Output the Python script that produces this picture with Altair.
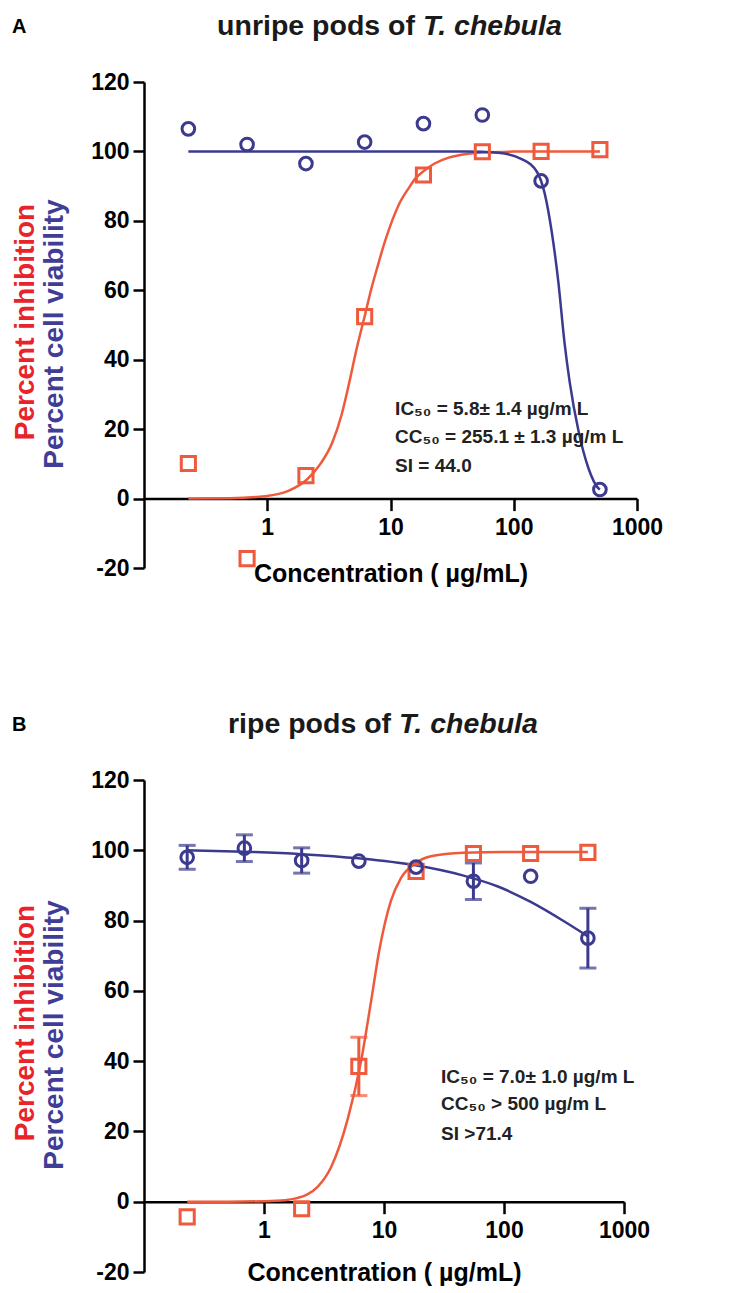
import altair as alt
import pandas as pd

FONT = "Liberation Sans"
ORANGE = "#ee5a3b"
BLUE = "#3b3a8f"
RED_T = "#e8232a"
BLUE_T = "#3f3d96"

# ---------------- data ----------------
conc = [0.229, 0.686, 2.06, 6.17, 18.5, 55.6, 166.7, 500]
x_ticks = [1, 10, 100, 1000]
y_ticks = [-20, 0, 20, 40, 60, 80, 100, 120]

# Panel A (unripe pods)
a_inhibition = [10.1, -17.3, 6.6, 52.4, 93.2, 99.9, 100.0, 100.5]
a_viability = [106.5, 102.0, 96.5, 102.7, 108.0, 110.5, 91.5, 2.6]
a_inhib_fit_x = [0.229, 0.5, 0.96, 1.5, 2.1, 2.7, 3.36, 4.0, 4.6, 5.3, 6.17, 7.0, 7.8, 9.0,
                 10.3, 12.0, 14.1, 16.0, 18.5, 23.0, 29.7, 40.0, 55.6, 100, 200, 500]
a_inhib_fit_y = [0.0, 0.1, 0.7, 2.3, 5.5, 10.0, 16.0, 24.0, 33.0, 43.0, 52.5, 60.5, 66.5, 74.0,
                 80.0, 85.5, 89.5, 92.3, 94.3, 96.6, 98.2, 99.2, 99.7, 99.95, 100.0, 100.0]
a_viab_fit_x = [0.229, 1, 10, 40, 75, 116, 155, 178, 203, 230, 258, 284, 336, 405, 488, 500]
a_viab_fit_y = [100, 100, 100, 99.95, 99.6, 97.8, 94.0, 88.0, 77.0, 62.4, 45.0, 33.7, 19.3, 8.6, 2.9, 2.6]
a_notes = ["IC\u2085\u2080 = 5.8\u00b1 1.4 \u00b5g/m L", "CC\u2085\u2080 = 255.1  \u00b1 1.3 \u00b5g/m L", "SI = 44.0"]
a_note_x = [10.9, 10.9, 10.9]
a_note_y = [25.9, 17.6, 9.5]

# Panel B (ripe pods)
b_inhibition = [-4.3, None, -2.0, 38.5, 94.0, 99.1, 99.1, 99.4]
b_inhibition_err = [0, 0, 0, 8.3, 0, 0, 0, 0]
b_viability = [98.0, 100.6, 97.1, 96.9, 95.2, 91.2, 92.6, 75.0]
b_viability_err = [3.4, 3.8, 3.6, 0, 0, 5.2, 0, 8.5]
b_inhib_fit_x = [0.229, 0.5, 1.0, 1.5, 1.92, 2.3, 2.81, 3.62, 5.0, 6.43, 7.8, 9.1, 11.4, 13.8,
                 17.8, 24.6, 46, 100, 500]
b_inhib_fit_y = [0.0, 0.02, 0.15, 0.45, 1.1, 2.1, 4.3, 9.8, 23.7, 39.9, 57.0, 71.2, 85.5, 92.0,
                 96.0, 98.3, 99.3, 99.5, 99.5]
b_viab_fit_x = [0.229, 0.686, 2.06, 6.17, 17.8, 46, 89, 167, 316, 500]
b_viab_fit_y = [100, 99.6, 98.9, 97.7, 95.8, 92.8, 89.7, 85.3, 79.8, 75.5]
b_notes = ["IC\u2085\u2080 = 7.0\u00b1 1.0  \u00b5g/m L", "CC\u2085\u2080 > 500  \u00b5g/m L", "SI >71.4"]
b_note_x = [29.9, 29.9, 29.9]
b_note_y = [35.6, 27.7, 19.4]

TITLE_SIZE = 28.5


def panel(w, h, inhib, viab, inhib_err, viab_err, ifx, ify, vfx, vfy,
          notes, nx, ny, title_plain, title_italic, letter, title_y, title_split,
          axis_offset, title_pad):
    xs = alt.Scale(type="log", domain=[0.1, 1000])
    ys = alt.Scale(domain=[-20, 120], nice=False, zero=False)
    x_axis = alt.Axis(values=x_ticks, format="d", title="Concentration ( \u00b5g/mL)",
                      offset=axis_offset, grid=False, domainColor="black", domainWidth=2.5,
                      tickColor="black", tickWidth=2.5, tickSize=12, labelPadding=6,
                      labelFont=FONT, labelFontSize=23, labelFontWeight="bold",
                      labelColor="black", labelFlush=False, labelOverlap=False,
                      titleFont=FONT, titleFontSize=25, titleFontWeight="bold",
                      titleColor="black", titlePadding=title_pad)
    y_axis = alt.Axis(values=y_ticks, title=None, grid=False, domainColor="black",
                      domainWidth=2.5, tickColor="black", tickWidth=2.5, tickSize=11,
                      labelPadding=4, labelFont=FONT, labelFontSize=23,
                      labelFontWeight="bold", labelColor="black",
                      labelExpr="'' + datum.value")
    X = alt.X("x:Q", scale=xs, axis=x_axis)
    Y = alt.Y("y:Q", scale=ys, axis=y_axis)

    pts_i = pd.DataFrame({"x": conc, "y": inhib, "e": inhib_err}).dropna()
    pts_v = pd.DataFrame({"x": conc, "y": viab, "e": viab_err})
    err = pd.concat([pts_i.assign(s="i"), pts_v.assign(s="v")])
    err = err[err["e"] > 0].copy()
    err["lo"] = err["y"] - err["e"]
    err["hi"] = err["y"] + err["e"]
    err_i = err[err["s"] == "i"]
    err_v = err[err["s"] == "v"]

    layers = []
    layers.append(alt.Chart(pd.DataFrame({"x": ifx, "y": ify})).mark_line(
        color=ORANGE, strokeWidth=2.5, interpolate="monotone").encode(x=X, y=Y))
    layers.append(alt.Chart(pd.DataFrame({"x": vfx, "y": vfy})).mark_line(
        color=BLUE, strokeWidth=2.5, interpolate="monotone").encode(x=X, y=Y))
    for e_df, col in ((err_i, ORANGE), (err_v, BLUE)):
        if len(e_df):
            layers.append(alt.Chart(e_df).mark_rule(color=col, strokeWidth=3).encode(
                x=X, y=alt.Y("lo:Q", scale=ys, axis=y_axis), y2="hi:Q"))
            for f in ("lo", "hi"):
                layers.append(alt.Chart(e_df).mark_tick(
                    color=col, orient="horizontal", size=17, thickness=3).encode(
                    x=X, y=alt.Y(f + ":Q", scale=ys, axis=y_axis)))
    layers.append(alt.Chart(pts_i).mark_point(
        shape="square", filled=False, color=ORANGE, strokeWidth=3, size=200, opacity=1
    ).encode(x=X, y=Y))
    layers.append(alt.Chart(pts_v).mark_point(
        shape="circle", filled=False, color=BLUE, strokeWidth=3, size=160, opacity=1
    ).encode(x=X, y=Y))
    layers.append(alt.Chart(pd.DataFrame({"x": nx, "y": ny, "t": notes})).mark_text(
        align="left", baseline="middle", font=FONT, fontSize=19, fontWeight="bold",
        color="#222222").encode(x=X, y=Y, text="t:N"))

    one = pd.DataFrame({"k": [0]})
    # y-axis titles (two colours)
    layers.append(alt.Chart(one).mark_text(
        angle=270, align="center", baseline="alphabetic", font=FONT, fontSize=28,
        fontWeight="bold", color=RED_T, text="Percent inhibition").encode(
        x=alt.value(-110), y=alt.value(h / 2 - 3)))
    layers.append(alt.Chart(one).mark_text(
        angle=270, align="center", baseline="alphabetic", font=FONT, fontSize=28,
        fontWeight="bold", color=BLUE_T, text="Percent cell viability").encode(
        x=alt.value(-81), y=alt.value(h / 2 + 9)))
    # panel title
    layers.append(alt.Chart(one).mark_text(
        align="right", baseline="alphabetic", font=FONT, fontSize=TITLE_SIZE,
        fontWeight="bold", color="#1a1a1a", text=title_plain).encode(
        x=alt.value(title_split), y=alt.value(title_y)))
    layers.append(alt.Chart(one).mark_text(
        align="left", baseline="alphabetic", font=FONT, fontSize=TITLE_SIZE,
        fontWeight="bold", fontStyle="italic", color="#1a1a1a", text=title_italic).encode(
        x=alt.value(title_split + 0.278 * TITLE_SIZE), y=alt.value(title_y)))
    layers.append(alt.Chart(one).mark_text(
        align="left", baseline="alphabetic", font=FONT, fontSize=20, fontWeight="bold",
        color="black", text=letter).encode(x=alt.value(-132), y=alt.value(title_y - 2)))

    return alt.layer(*layers).properties(width=w, height=h)


def split_x(center, plain, italic_em=4.946):
    # position where the upright part ends so that the whole title is centred
    plain_em = {"unripe pods of": 6.945, "ripe pods of": 5.723}[plain]
    total = (plain_em + 0.278 + italic_em) * TITLE_SIZE
    return center - total / 2 + plain_em * TITLE_SIZE


chart_a = panel(493, 486, a_inhibition, a_viability, [0] * 8, [0] * 8,
                a_inhib_fit_x, a_inhib_fit_y, a_viab_fit_x, a_viab_fit_y,
                a_notes, a_note_x, a_note_y, "unripe pods of", "T. chebula", "A",
                -47, split_x(246.5, "unripe pods of"), -69.4, 22)
chart_b = panel(480, 492, b_inhibition, b_viability, b_inhibition_err, b_viability_err,
                b_inhib_fit_x, b_inhib_fit_y, b_viab_fit_x, b_viab_fit_y,
                b_notes, b_note_x, b_note_y, "ripe pods of", "T. chebula", "B",
                -47, split_x(240, "ripe pods of"), -70.3, 18)

chart = alt.vconcat(chart_a, chart_b, spacing=212, bounds="flush").properties(
    padding={"left": 4, "top": 4, "right": 5, "bottom": 5}).configure_view(stroke=None)

chart.save("out.html", embed_options={"renderer": "svg", "actions": False})
